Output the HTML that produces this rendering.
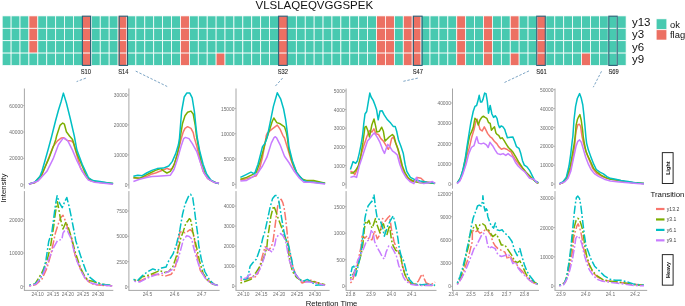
<!DOCTYPE html><html><head><meta charset="utf-8"><style>html,body{margin:0;padding:0;background:#fff;width:685px;height:306px;overflow:hidden}svg{display:block;will-change:transform}text{font-family:"Liberation Sans",sans-serif}</style></head><body>
<svg width="685" height="306" viewBox="0 0 685 306">
<g stroke="#fff" stroke-width="0.75">
<rect x="2.20" y="15.90" width="8.91" height="12.40" fill="#48C9B0"/>
<rect x="2.20" y="28.30" width="8.91" height="12.40" fill="#48C9B0"/>
<rect x="2.20" y="40.70" width="8.91" height="12.40" fill="#48C9B0"/>
<rect x="2.20" y="53.10" width="8.91" height="12.40" fill="#48C9B0"/>
<rect x="11.11" y="15.90" width="8.91" height="12.40" fill="#48C9B0"/>
<rect x="11.11" y="28.30" width="8.91" height="12.40" fill="#48C9B0"/>
<rect x="11.11" y="40.70" width="8.91" height="12.40" fill="#48C9B0"/>
<rect x="11.11" y="53.10" width="8.91" height="12.40" fill="#48C9B0"/>
<rect x="20.03" y="15.90" width="8.91" height="12.40" fill="#48C9B0"/>
<rect x="20.03" y="28.30" width="8.91" height="12.40" fill="#48C9B0"/>
<rect x="20.03" y="40.70" width="8.91" height="12.40" fill="#48C9B0"/>
<rect x="20.03" y="53.10" width="8.91" height="12.40" fill="#48C9B0"/>
<rect x="28.94" y="15.90" width="8.91" height="12.40" fill="#EC7063"/>
<rect x="28.94" y="28.30" width="8.91" height="12.40" fill="#EC7063"/>
<rect x="28.94" y="40.70" width="8.91" height="12.40" fill="#EC7063"/>
<rect x="28.94" y="53.10" width="8.91" height="12.40" fill="#48C9B0"/>
<rect x="37.85" y="15.90" width="8.91" height="12.40" fill="#48C9B0"/>
<rect x="37.85" y="28.30" width="8.91" height="12.40" fill="#48C9B0"/>
<rect x="37.85" y="40.70" width="8.91" height="12.40" fill="#48C9B0"/>
<rect x="37.85" y="53.10" width="8.91" height="12.40" fill="#48C9B0"/>
<rect x="46.77" y="15.90" width="8.91" height="12.40" fill="#48C9B0"/>
<rect x="46.77" y="28.30" width="8.91" height="12.40" fill="#48C9B0"/>
<rect x="46.77" y="40.70" width="8.91" height="12.40" fill="#48C9B0"/>
<rect x="46.77" y="53.10" width="8.91" height="12.40" fill="#48C9B0"/>
<rect x="55.68" y="15.90" width="8.91" height="12.40" fill="#48C9B0"/>
<rect x="55.68" y="28.30" width="8.91" height="12.40" fill="#48C9B0"/>
<rect x="55.68" y="40.70" width="8.91" height="12.40" fill="#48C9B0"/>
<rect x="55.68" y="53.10" width="8.91" height="12.40" fill="#48C9B0"/>
<rect x="64.59" y="15.90" width="8.91" height="12.40" fill="#48C9B0"/>
<rect x="64.59" y="28.30" width="8.91" height="12.40" fill="#48C9B0"/>
<rect x="64.59" y="40.70" width="8.91" height="12.40" fill="#48C9B0"/>
<rect x="64.59" y="53.10" width="8.91" height="12.40" fill="#48C9B0"/>
<rect x="73.50" y="15.90" width="8.91" height="12.40" fill="#48C9B0"/>
<rect x="73.50" y="28.30" width="8.91" height="12.40" fill="#48C9B0"/>
<rect x="73.50" y="40.70" width="8.91" height="12.40" fill="#48C9B0"/>
<rect x="73.50" y="53.10" width="8.91" height="12.40" fill="#48C9B0"/>
<rect x="82.42" y="15.90" width="8.91" height="12.40" fill="#EC7063"/>
<rect x="82.42" y="28.30" width="8.91" height="12.40" fill="#EC7063"/>
<rect x="82.42" y="40.70" width="8.91" height="12.40" fill="#EC7063"/>
<rect x="82.42" y="53.10" width="8.91" height="12.40" fill="#EC7063"/>
<rect x="91.33" y="15.90" width="8.91" height="12.40" fill="#48C9B0"/>
<rect x="91.33" y="28.30" width="8.91" height="12.40" fill="#48C9B0"/>
<rect x="91.33" y="40.70" width="8.91" height="12.40" fill="#48C9B0"/>
<rect x="91.33" y="53.10" width="8.91" height="12.40" fill="#48C9B0"/>
<rect x="100.24" y="15.90" width="8.91" height="12.40" fill="#48C9B0"/>
<rect x="100.24" y="28.30" width="8.91" height="12.40" fill="#48C9B0"/>
<rect x="100.24" y="40.70" width="8.91" height="12.40" fill="#48C9B0"/>
<rect x="100.24" y="53.10" width="8.91" height="12.40" fill="#48C9B0"/>
<rect x="109.16" y="15.90" width="8.91" height="12.40" fill="#48C9B0"/>
<rect x="109.16" y="28.30" width="8.91" height="12.40" fill="#48C9B0"/>
<rect x="109.16" y="40.70" width="8.91" height="12.40" fill="#48C9B0"/>
<rect x="109.16" y="53.10" width="8.91" height="12.40" fill="#48C9B0"/>
<rect x="118.07" y="15.90" width="8.91" height="12.40" fill="#EC7063"/>
<rect x="118.07" y="28.30" width="8.91" height="12.40" fill="#EC7063"/>
<rect x="118.07" y="40.70" width="8.91" height="12.40" fill="#EC7063"/>
<rect x="118.07" y="53.10" width="8.91" height="12.40" fill="#EC7063"/>
<rect x="126.98" y="15.90" width="8.91" height="12.40" fill="#48C9B0"/>
<rect x="126.98" y="28.30" width="8.91" height="12.40" fill="#48C9B0"/>
<rect x="126.98" y="40.70" width="8.91" height="12.40" fill="#48C9B0"/>
<rect x="126.98" y="53.10" width="8.91" height="12.40" fill="#48C9B0"/>
<rect x="135.89" y="15.90" width="8.91" height="12.40" fill="#48C9B0"/>
<rect x="135.89" y="28.30" width="8.91" height="12.40" fill="#48C9B0"/>
<rect x="135.89" y="40.70" width="8.91" height="12.40" fill="#48C9B0"/>
<rect x="135.89" y="53.10" width="8.91" height="12.40" fill="#48C9B0"/>
<rect x="144.81" y="15.90" width="8.91" height="12.40" fill="#48C9B0"/>
<rect x="144.81" y="28.30" width="8.91" height="12.40" fill="#48C9B0"/>
<rect x="144.81" y="40.70" width="8.91" height="12.40" fill="#48C9B0"/>
<rect x="144.81" y="53.10" width="8.91" height="12.40" fill="#48C9B0"/>
<rect x="153.72" y="15.90" width="8.91" height="12.40" fill="#48C9B0"/>
<rect x="153.72" y="28.30" width="8.91" height="12.40" fill="#48C9B0"/>
<rect x="153.72" y="40.70" width="8.91" height="12.40" fill="#48C9B0"/>
<rect x="153.72" y="53.10" width="8.91" height="12.40" fill="#48C9B0"/>
<rect x="162.63" y="15.90" width="8.91" height="12.40" fill="#48C9B0"/>
<rect x="162.63" y="28.30" width="8.91" height="12.40" fill="#48C9B0"/>
<rect x="162.63" y="40.70" width="8.91" height="12.40" fill="#48C9B0"/>
<rect x="162.63" y="53.10" width="8.91" height="12.40" fill="#48C9B0"/>
<rect x="171.55" y="15.90" width="8.91" height="12.40" fill="#48C9B0"/>
<rect x="171.55" y="28.30" width="8.91" height="12.40" fill="#48C9B0"/>
<rect x="171.55" y="40.70" width="8.91" height="12.40" fill="#48C9B0"/>
<rect x="171.55" y="53.10" width="8.91" height="12.40" fill="#48C9B0"/>
<rect x="180.46" y="15.90" width="8.91" height="12.40" fill="#EC7063"/>
<rect x="180.46" y="28.30" width="8.91" height="12.40" fill="#EC7063"/>
<rect x="180.46" y="40.70" width="8.91" height="12.40" fill="#EC7063"/>
<rect x="180.46" y="53.10" width="8.91" height="12.40" fill="#EC7063"/>
<rect x="189.37" y="15.90" width="8.91" height="12.40" fill="#48C9B0"/>
<rect x="189.37" y="28.30" width="8.91" height="12.40" fill="#48C9B0"/>
<rect x="189.37" y="40.70" width="8.91" height="12.40" fill="#48C9B0"/>
<rect x="189.37" y="53.10" width="8.91" height="12.40" fill="#48C9B0"/>
<rect x="198.29" y="15.90" width="8.91" height="12.40" fill="#48C9B0"/>
<rect x="198.29" y="28.30" width="8.91" height="12.40" fill="#48C9B0"/>
<rect x="198.29" y="40.70" width="8.91" height="12.40" fill="#48C9B0"/>
<rect x="198.29" y="53.10" width="8.91" height="12.40" fill="#48C9B0"/>
<rect x="207.20" y="15.90" width="8.91" height="12.40" fill="#48C9B0"/>
<rect x="207.20" y="28.30" width="8.91" height="12.40" fill="#48C9B0"/>
<rect x="207.20" y="40.70" width="8.91" height="12.40" fill="#48C9B0"/>
<rect x="207.20" y="53.10" width="8.91" height="12.40" fill="#48C9B0"/>
<rect x="216.11" y="15.90" width="8.91" height="12.40" fill="#48C9B0"/>
<rect x="216.11" y="28.30" width="8.91" height="12.40" fill="#48C9B0"/>
<rect x="216.11" y="40.70" width="8.91" height="12.40" fill="#48C9B0"/>
<rect x="216.11" y="53.10" width="8.91" height="12.40" fill="#EC7063"/>
<rect x="225.03" y="15.90" width="8.91" height="12.40" fill="#48C9B0"/>
<rect x="225.03" y="28.30" width="8.91" height="12.40" fill="#48C9B0"/>
<rect x="225.03" y="40.70" width="8.91" height="12.40" fill="#48C9B0"/>
<rect x="225.03" y="53.10" width="8.91" height="12.40" fill="#48C9B0"/>
<rect x="233.94" y="15.90" width="8.91" height="12.40" fill="#48C9B0"/>
<rect x="233.94" y="28.30" width="8.91" height="12.40" fill="#48C9B0"/>
<rect x="233.94" y="40.70" width="8.91" height="12.40" fill="#48C9B0"/>
<rect x="233.94" y="53.10" width="8.91" height="12.40" fill="#48C9B0"/>
<rect x="242.85" y="15.90" width="8.91" height="12.40" fill="#48C9B0"/>
<rect x="242.85" y="28.30" width="8.91" height="12.40" fill="#48C9B0"/>
<rect x="242.85" y="40.70" width="8.91" height="12.40" fill="#48C9B0"/>
<rect x="242.85" y="53.10" width="8.91" height="12.40" fill="#48C9B0"/>
<rect x="251.76" y="15.90" width="8.91" height="12.40" fill="#48C9B0"/>
<rect x="251.76" y="28.30" width="8.91" height="12.40" fill="#48C9B0"/>
<rect x="251.76" y="40.70" width="8.91" height="12.40" fill="#48C9B0"/>
<rect x="251.76" y="53.10" width="8.91" height="12.40" fill="#48C9B0"/>
<rect x="260.68" y="15.90" width="8.91" height="12.40" fill="#48C9B0"/>
<rect x="260.68" y="28.30" width="8.91" height="12.40" fill="#48C9B0"/>
<rect x="260.68" y="40.70" width="8.91" height="12.40" fill="#48C9B0"/>
<rect x="260.68" y="53.10" width="8.91" height="12.40" fill="#48C9B0"/>
<rect x="269.59" y="15.90" width="8.91" height="12.40" fill="#48C9B0"/>
<rect x="269.59" y="28.30" width="8.91" height="12.40" fill="#48C9B0"/>
<rect x="269.59" y="40.70" width="8.91" height="12.40" fill="#48C9B0"/>
<rect x="269.59" y="53.10" width="8.91" height="12.40" fill="#48C9B0"/>
<rect x="278.50" y="15.90" width="8.91" height="12.40" fill="#EC7063"/>
<rect x="278.50" y="28.30" width="8.91" height="12.40" fill="#EC7063"/>
<rect x="278.50" y="40.70" width="8.91" height="12.40" fill="#EC7063"/>
<rect x="278.50" y="53.10" width="8.91" height="12.40" fill="#EC7063"/>
<rect x="287.42" y="15.90" width="8.91" height="12.40" fill="#48C9B0"/>
<rect x="287.42" y="28.30" width="8.91" height="12.40" fill="#48C9B0"/>
<rect x="287.42" y="40.70" width="8.91" height="12.40" fill="#48C9B0"/>
<rect x="287.42" y="53.10" width="8.91" height="12.40" fill="#48C9B0"/>
<rect x="296.33" y="15.90" width="8.91" height="12.40" fill="#48C9B0"/>
<rect x="296.33" y="28.30" width="8.91" height="12.40" fill="#48C9B0"/>
<rect x="296.33" y="40.70" width="8.91" height="12.40" fill="#48C9B0"/>
<rect x="296.33" y="53.10" width="8.91" height="12.40" fill="#48C9B0"/>
<rect x="305.24" y="15.90" width="8.91" height="12.40" fill="#48C9B0"/>
<rect x="305.24" y="28.30" width="8.91" height="12.40" fill="#48C9B0"/>
<rect x="305.24" y="40.70" width="8.91" height="12.40" fill="#48C9B0"/>
<rect x="305.24" y="53.10" width="8.91" height="12.40" fill="#48C9B0"/>
<rect x="314.15" y="15.90" width="8.91" height="12.40" fill="#48C9B0"/>
<rect x="314.15" y="28.30" width="8.91" height="12.40" fill="#48C9B0"/>
<rect x="314.15" y="40.70" width="8.91" height="12.40" fill="#48C9B0"/>
<rect x="314.15" y="53.10" width="8.91" height="12.40" fill="#48C9B0"/>
<rect x="323.07" y="15.90" width="8.91" height="12.40" fill="#48C9B0"/>
<rect x="323.07" y="28.30" width="8.91" height="12.40" fill="#48C9B0"/>
<rect x="323.07" y="40.70" width="8.91" height="12.40" fill="#48C9B0"/>
<rect x="323.07" y="53.10" width="8.91" height="12.40" fill="#48C9B0"/>
<rect x="331.98" y="15.90" width="8.91" height="12.40" fill="#48C9B0"/>
<rect x="331.98" y="28.30" width="8.91" height="12.40" fill="#48C9B0"/>
<rect x="331.98" y="40.70" width="8.91" height="12.40" fill="#48C9B0"/>
<rect x="331.98" y="53.10" width="8.91" height="12.40" fill="#48C9B0"/>
<rect x="340.89" y="15.90" width="8.91" height="12.40" fill="#48C9B0"/>
<rect x="340.89" y="28.30" width="8.91" height="12.40" fill="#48C9B0"/>
<rect x="340.89" y="40.70" width="8.91" height="12.40" fill="#48C9B0"/>
<rect x="340.89" y="53.10" width="8.91" height="12.40" fill="#48C9B0"/>
<rect x="349.81" y="15.90" width="8.91" height="12.40" fill="#48C9B0"/>
<rect x="349.81" y="28.30" width="8.91" height="12.40" fill="#48C9B0"/>
<rect x="349.81" y="40.70" width="8.91" height="12.40" fill="#48C9B0"/>
<rect x="349.81" y="53.10" width="8.91" height="12.40" fill="#48C9B0"/>
<rect x="358.72" y="15.90" width="8.91" height="12.40" fill="#48C9B0"/>
<rect x="358.72" y="28.30" width="8.91" height="12.40" fill="#48C9B0"/>
<rect x="358.72" y="40.70" width="8.91" height="12.40" fill="#48C9B0"/>
<rect x="358.72" y="53.10" width="8.91" height="12.40" fill="#48C9B0"/>
<rect x="367.63" y="15.90" width="8.91" height="12.40" fill="#48C9B0"/>
<rect x="367.63" y="28.30" width="8.91" height="12.40" fill="#48C9B0"/>
<rect x="367.63" y="40.70" width="8.91" height="12.40" fill="#48C9B0"/>
<rect x="367.63" y="53.10" width="8.91" height="12.40" fill="#48C9B0"/>
<rect x="376.55" y="15.90" width="8.91" height="12.40" fill="#EC7063"/>
<rect x="376.55" y="28.30" width="8.91" height="12.40" fill="#EC7063"/>
<rect x="376.55" y="40.70" width="8.91" height="12.40" fill="#EC7063"/>
<rect x="376.55" y="53.10" width="8.91" height="12.40" fill="#EC7063"/>
<rect x="385.46" y="15.90" width="8.91" height="12.40" fill="#EC7063"/>
<rect x="385.46" y="28.30" width="8.91" height="12.40" fill="#EC7063"/>
<rect x="385.46" y="40.70" width="8.91" height="12.40" fill="#EC7063"/>
<rect x="385.46" y="53.10" width="8.91" height="12.40" fill="#EC7063"/>
<rect x="394.37" y="15.90" width="8.91" height="12.40" fill="#48C9B0"/>
<rect x="394.37" y="28.30" width="8.91" height="12.40" fill="#48C9B0"/>
<rect x="394.37" y="40.70" width="8.91" height="12.40" fill="#48C9B0"/>
<rect x="394.37" y="53.10" width="8.91" height="12.40" fill="#48C9B0"/>
<rect x="403.29" y="15.90" width="8.91" height="12.40" fill="#EC7063"/>
<rect x="403.29" y="28.30" width="8.91" height="12.40" fill="#EC7063"/>
<rect x="403.29" y="40.70" width="8.91" height="12.40" fill="#EC7063"/>
<rect x="403.29" y="53.10" width="8.91" height="12.40" fill="#EC7063"/>
<rect x="412.20" y="15.90" width="8.91" height="12.40" fill="#EC7063"/>
<rect x="412.20" y="28.30" width="8.91" height="12.40" fill="#EC7063"/>
<rect x="412.20" y="40.70" width="8.91" height="12.40" fill="#EC7063"/>
<rect x="412.20" y="53.10" width="8.91" height="12.40" fill="#EC7063"/>
<rect x="421.11" y="15.90" width="8.91" height="12.40" fill="#48C9B0"/>
<rect x="421.11" y="28.30" width="8.91" height="12.40" fill="#48C9B0"/>
<rect x="421.11" y="40.70" width="8.91" height="12.40" fill="#48C9B0"/>
<rect x="421.11" y="53.10" width="8.91" height="12.40" fill="#48C9B0"/>
<rect x="430.02" y="15.90" width="8.91" height="12.40" fill="#48C9B0"/>
<rect x="430.02" y="28.30" width="8.91" height="12.40" fill="#48C9B0"/>
<rect x="430.02" y="40.70" width="8.91" height="12.40" fill="#48C9B0"/>
<rect x="430.02" y="53.10" width="8.91" height="12.40" fill="#48C9B0"/>
<rect x="438.94" y="15.90" width="8.91" height="12.40" fill="#48C9B0"/>
<rect x="438.94" y="28.30" width="8.91" height="12.40" fill="#48C9B0"/>
<rect x="438.94" y="40.70" width="8.91" height="12.40" fill="#48C9B0"/>
<rect x="438.94" y="53.10" width="8.91" height="12.40" fill="#48C9B0"/>
<rect x="447.85" y="15.90" width="8.91" height="12.40" fill="#48C9B0"/>
<rect x="447.85" y="28.30" width="8.91" height="12.40" fill="#48C9B0"/>
<rect x="447.85" y="40.70" width="8.91" height="12.40" fill="#48C9B0"/>
<rect x="447.85" y="53.10" width="8.91" height="12.40" fill="#48C9B0"/>
<rect x="456.76" y="15.90" width="8.91" height="12.40" fill="#EC7063"/>
<rect x="456.76" y="28.30" width="8.91" height="12.40" fill="#EC7063"/>
<rect x="456.76" y="40.70" width="8.91" height="12.40" fill="#EC7063"/>
<rect x="456.76" y="53.10" width="8.91" height="12.40" fill="#EC7063"/>
<rect x="465.68" y="15.90" width="8.91" height="12.40" fill="#48C9B0"/>
<rect x="465.68" y="28.30" width="8.91" height="12.40" fill="#48C9B0"/>
<rect x="465.68" y="40.70" width="8.91" height="12.40" fill="#48C9B0"/>
<rect x="465.68" y="53.10" width="8.91" height="12.40" fill="#48C9B0"/>
<rect x="474.59" y="15.90" width="8.91" height="12.40" fill="#48C9B0"/>
<rect x="474.59" y="28.30" width="8.91" height="12.40" fill="#48C9B0"/>
<rect x="474.59" y="40.70" width="8.91" height="12.40" fill="#48C9B0"/>
<rect x="474.59" y="53.10" width="8.91" height="12.40" fill="#48C9B0"/>
<rect x="483.50" y="15.90" width="8.91" height="12.40" fill="#EC7063"/>
<rect x="483.50" y="28.30" width="8.91" height="12.40" fill="#EC7063"/>
<rect x="483.50" y="40.70" width="8.91" height="12.40" fill="#EC7063"/>
<rect x="483.50" y="53.10" width="8.91" height="12.40" fill="#EC7063"/>
<rect x="492.42" y="15.90" width="8.91" height="12.40" fill="#48C9B0"/>
<rect x="492.42" y="28.30" width="8.91" height="12.40" fill="#48C9B0"/>
<rect x="492.42" y="40.70" width="8.91" height="12.40" fill="#48C9B0"/>
<rect x="492.42" y="53.10" width="8.91" height="12.40" fill="#48C9B0"/>
<rect x="501.33" y="15.90" width="8.91" height="12.40" fill="#48C9B0"/>
<rect x="501.33" y="28.30" width="8.91" height="12.40" fill="#48C9B0"/>
<rect x="501.33" y="40.70" width="8.91" height="12.40" fill="#48C9B0"/>
<rect x="501.33" y="53.10" width="8.91" height="12.40" fill="#48C9B0"/>
<rect x="510.24" y="15.90" width="8.91" height="12.40" fill="#EC7063"/>
<rect x="510.24" y="28.30" width="8.91" height="12.40" fill="#EC7063"/>
<rect x="510.24" y="40.70" width="8.91" height="12.40" fill="#48C9B0"/>
<rect x="510.24" y="53.10" width="8.91" height="12.40" fill="#EC7063"/>
<rect x="519.15" y="15.90" width="8.91" height="12.40" fill="#48C9B0"/>
<rect x="519.15" y="28.30" width="8.91" height="12.40" fill="#48C9B0"/>
<rect x="519.15" y="40.70" width="8.91" height="12.40" fill="#48C9B0"/>
<rect x="519.15" y="53.10" width="8.91" height="12.40" fill="#48C9B0"/>
<rect x="528.07" y="15.90" width="8.91" height="12.40" fill="#48C9B0"/>
<rect x="528.07" y="28.30" width="8.91" height="12.40" fill="#48C9B0"/>
<rect x="528.07" y="40.70" width="8.91" height="12.40" fill="#48C9B0"/>
<rect x="528.07" y="53.10" width="8.91" height="12.40" fill="#48C9B0"/>
<rect x="536.98" y="15.90" width="8.91" height="12.40" fill="#EC7063"/>
<rect x="536.98" y="28.30" width="8.91" height="12.40" fill="#EC7063"/>
<rect x="536.98" y="40.70" width="8.91" height="12.40" fill="#EC7063"/>
<rect x="536.98" y="53.10" width="8.91" height="12.40" fill="#EC7063"/>
<rect x="545.89" y="15.90" width="8.91" height="12.40" fill="#48C9B0"/>
<rect x="545.89" y="28.30" width="8.91" height="12.40" fill="#48C9B0"/>
<rect x="545.89" y="40.70" width="8.91" height="12.40" fill="#48C9B0"/>
<rect x="545.89" y="53.10" width="8.91" height="12.40" fill="#48C9B0"/>
<rect x="554.81" y="15.90" width="8.91" height="12.40" fill="#48C9B0"/>
<rect x="554.81" y="28.30" width="8.91" height="12.40" fill="#48C9B0"/>
<rect x="554.81" y="40.70" width="8.91" height="12.40" fill="#48C9B0"/>
<rect x="554.81" y="53.10" width="8.91" height="12.40" fill="#48C9B0"/>
<rect x="563.72" y="15.90" width="8.91" height="12.40" fill="#48C9B0"/>
<rect x="563.72" y="28.30" width="8.91" height="12.40" fill="#48C9B0"/>
<rect x="563.72" y="40.70" width="8.91" height="12.40" fill="#48C9B0"/>
<rect x="563.72" y="53.10" width="8.91" height="12.40" fill="#48C9B0"/>
<rect x="572.63" y="15.90" width="8.91" height="12.40" fill="#48C9B0"/>
<rect x="572.63" y="28.30" width="8.91" height="12.40" fill="#48C9B0"/>
<rect x="572.63" y="40.70" width="8.91" height="12.40" fill="#48C9B0"/>
<rect x="572.63" y="53.10" width="8.91" height="12.40" fill="#48C9B0"/>
<rect x="581.55" y="15.90" width="8.91" height="12.40" fill="#48C9B0"/>
<rect x="581.55" y="28.30" width="8.91" height="12.40" fill="#48C9B0"/>
<rect x="581.55" y="40.70" width="8.91" height="12.40" fill="#48C9B0"/>
<rect x="581.55" y="53.10" width="8.91" height="12.40" fill="#EC7063"/>
<rect x="590.46" y="15.90" width="8.91" height="12.40" fill="#48C9B0"/>
<rect x="590.46" y="28.30" width="8.91" height="12.40" fill="#48C9B0"/>
<rect x="590.46" y="40.70" width="8.91" height="12.40" fill="#48C9B0"/>
<rect x="590.46" y="53.10" width="8.91" height="12.40" fill="#48C9B0"/>
<rect x="599.37" y="15.90" width="8.91" height="12.40" fill="#48C9B0"/>
<rect x="599.37" y="28.30" width="8.91" height="12.40" fill="#48C9B0"/>
<rect x="599.37" y="40.70" width="8.91" height="12.40" fill="#48C9B0"/>
<rect x="599.37" y="53.10" width="8.91" height="12.40" fill="#48C9B0"/>
<rect x="608.28" y="15.90" width="8.91" height="12.40" fill="#48C9B0"/>
<rect x="608.28" y="28.30" width="8.91" height="12.40" fill="#48C9B0"/>
<rect x="608.28" y="40.70" width="8.91" height="12.40" fill="#48C9B0"/>
<rect x="608.28" y="53.10" width="8.91" height="12.40" fill="#48C9B0"/>
<rect x="617.20" y="15.90" width="8.91" height="12.40" fill="#48C9B0"/>
<rect x="617.20" y="28.30" width="8.91" height="12.40" fill="#48C9B0"/>
<rect x="617.20" y="40.70" width="8.91" height="12.40" fill="#48C9B0"/>
<rect x="617.20" y="53.10" width="8.91" height="12.40" fill="#48C9B0"/>
</g>
<rect x="82.40" y="16.2" width="8.20" height="49.2" fill="none" stroke="#2A5E76" stroke-width="1.1"/>
<text transform="translate(85.90,73.6) scale(1,1.18)" font-size="5.8" fill="#222" stroke="#222" stroke-width="0.08" text-anchor="middle">S10</text>
<rect x="119.20" y="16.2" width="8.30" height="49.2" fill="none" stroke="#2A5E76" stroke-width="1.1"/>
<text transform="translate(123.40,73.6) scale(1,1.18)" font-size="5.8" fill="#222" stroke="#222" stroke-width="0.08" text-anchor="middle">S14</text>
<rect x="278.60" y="16.2" width="8.70" height="49.2" fill="none" stroke="#2A5E76" stroke-width="1.1"/>
<text transform="translate(282.85,73.6) scale(1,1.18)" font-size="5.8" fill="#222" stroke="#222" stroke-width="0.08" text-anchor="middle">S32</text>
<rect x="413.40" y="16.2" width="8.70" height="49.2" fill="none" stroke="#2A5E76" stroke-width="1.1"/>
<text transform="translate(417.80,73.6) scale(1,1.18)" font-size="5.8" fill="#222" stroke="#222" stroke-width="0.08" text-anchor="middle">S47</text>
<rect x="536.70" y="16.2" width="8.60" height="49.2" fill="none" stroke="#2A5E76" stroke-width="1.1"/>
<text transform="translate(541.50,73.6) scale(1,1.18)" font-size="5.8" fill="#222" stroke="#222" stroke-width="0.08" text-anchor="middle">S61</text>
<rect x="608.80" y="16.2" width="8.40" height="49.2" fill="none" stroke="#2A5E76" stroke-width="1.1"/>
<text transform="translate(613.60,73.6) scale(1,1.18)" font-size="5.8" fill="#222" stroke="#222" stroke-width="0.08" text-anchor="middle">S69</text>
<text x="631.9" y="26.10" font-size="11.5" fill="#111">y13</text>
<text x="631.9" y="38.30" font-size="11.5" fill="#111">y3</text>
<text x="631.9" y="50.50" font-size="11.5" fill="#111">y6</text>
<text x="631.9" y="62.70" font-size="11.5" fill="#111">y9</text>
<rect x="656.2" y="18.9" width="10.6" height="10.4" fill="#48C9B0" stroke="#fff" stroke-width="0.6"/>
<rect x="656.2" y="29.8" width="10.6" height="10.2" fill="#EC7063" stroke="#fff" stroke-width="0.6"/>
<text x="670" y="27.7" font-size="9.4" fill="#111">ok</text>
<text x="670" y="38.2" font-size="9.4" fill="#111">flag</text>
<text x="314.3" y="8.7" font-size="11.5" fill="#111" text-anchor="middle">VLSLAQEQVGGSPEK</text>
<line x1="85.9" y1="78.1" x2="76.6" y2="81.6" stroke="#5B8DB5" stroke-width="0.8" stroke-dasharray="2.5,1.6"/>
<line x1="135.7" y1="71.1" x2="167.2" y2="86.5" stroke="#5B8DB5" stroke-width="0.8" stroke-dasharray="2.5,1.6"/>
<line x1="282.6" y1="78.1" x2="275" y2="86.5" stroke="#5B8DB5" stroke-width="0.8" stroke-dasharray="2.5,1.6"/>
<line x1="417.8" y1="78.1" x2="402" y2="81.6" stroke="#5B8DB5" stroke-width="0.8" stroke-dasharray="2.5,1.6"/>
<line x1="529" y1="70.9" x2="503.4" y2="83" stroke="#5B8DB5" stroke-width="0.8" stroke-dasharray="2.5,1.6"/>
<line x1="601.5" y1="71.3" x2="593.3" y2="87.2" stroke="#5B8DB5" stroke-width="0.8" stroke-dasharray="2.5,1.6"/>
<line x1="24.4" y1="88.5" x2="24.4" y2="188.7" stroke="#9c9c9c" stroke-width="0.9"/>
<line x1="22.799999999999997" y1="105.6" x2="24.4" y2="105.6" stroke="#9c9c9c" stroke-width="0.7"/>
<text transform="translate(22.90,107.75) scale(1,1.28)" font-size="4.9" fill="#6e6e6e" text-anchor="end">60000</text>
<line x1="22.799999999999997" y1="132.0" x2="24.4" y2="132.0" stroke="#9c9c9c" stroke-width="0.7"/>
<text transform="translate(22.90,134.15) scale(1,1.28)" font-size="4.9" fill="#6e6e6e" text-anchor="end">40000</text>
<line x1="22.799999999999997" y1="158.3" x2="24.4" y2="158.3" stroke="#9c9c9c" stroke-width="0.7"/>
<text transform="translate(22.90,160.45) scale(1,1.28)" font-size="4.9" fill="#6e6e6e" text-anchor="end">20000</text>
<line x1="22.799999999999997" y1="184.8" x2="24.4" y2="184.8" stroke="#9c9c9c" stroke-width="0.7"/>
<text transform="translate(22.90,186.95) scale(1,1.28)" font-size="4.9" fill="#6e6e6e" text-anchor="end">0</text>
<line x1="24.4" y1="191.1" x2="24.4" y2="290.4" stroke="#9c9c9c" stroke-width="0.9"/>
<line x1="22.799999999999997" y1="219.7" x2="24.4" y2="219.7" stroke="#9c9c9c" stroke-width="0.7"/>
<text transform="translate(22.90,221.85) scale(1,1.28)" font-size="4.9" fill="#6e6e6e" text-anchor="end">20000</text>
<line x1="22.799999999999997" y1="253.0" x2="24.4" y2="253.0" stroke="#9c9c9c" stroke-width="0.7"/>
<text transform="translate(22.90,255.15) scale(1,1.28)" font-size="4.9" fill="#6e6e6e" text-anchor="end">10000</text>
<line x1="22.799999999999997" y1="286.4" x2="24.4" y2="286.4" stroke="#9c9c9c" stroke-width="0.7"/>
<text transform="translate(22.90,288.55) scale(1,1.28)" font-size="4.9" fill="#6e6e6e" text-anchor="end">0</text>
<line x1="23.95" y1="290.4" x2="113.3" y2="290.4" stroke="#9c9c9c" stroke-width="0.9"/>
<line x1="37.6" y1="290.4" x2="37.6" y2="292" stroke="#9c9c9c" stroke-width="0.7"/>
<text transform="translate(37.6,296.0) scale(1,1.28)" font-size="4.9" fill="#6e6e6e" text-anchor="middle">24.10</text>
<line x1="53.0" y1="290.4" x2="53.0" y2="292" stroke="#9c9c9c" stroke-width="0.7"/>
<text transform="translate(53.0,296.0) scale(1,1.28)" font-size="4.9" fill="#6e6e6e" text-anchor="middle">24.15</text>
<line x1="67.8" y1="290.4" x2="67.8" y2="292" stroke="#9c9c9c" stroke-width="0.7"/>
<text transform="translate(67.8,296.0) scale(1,1.28)" font-size="4.9" fill="#6e6e6e" text-anchor="middle">24.20</text>
<line x1="83.0" y1="290.4" x2="83.0" y2="292" stroke="#9c9c9c" stroke-width="0.7"/>
<text transform="translate(83.0,296.0) scale(1,1.28)" font-size="4.9" fill="#6e6e6e" text-anchor="middle">24.25</text>
<line x1="98.2" y1="290.4" x2="98.2" y2="292" stroke="#9c9c9c" stroke-width="0.7"/>
<text transform="translate(98.2,296.0) scale(1,1.28)" font-size="4.9" fill="#6e6e6e" text-anchor="middle">24.30</text>
<line x1="128.9" y1="88.5" x2="128.9" y2="188.7" stroke="#9c9c9c" stroke-width="0.9"/>
<line x1="127.30000000000001" y1="95.0" x2="128.9" y2="95.0" stroke="#9c9c9c" stroke-width="0.7"/>
<text transform="translate(127.40,97.15) scale(1,1.28)" font-size="4.9" fill="#6e6e6e" text-anchor="end">30000</text>
<line x1="127.30000000000001" y1="124.9" x2="128.9" y2="124.9" stroke="#9c9c9c" stroke-width="0.7"/>
<text transform="translate(127.40,127.05) scale(1,1.28)" font-size="4.9" fill="#6e6e6e" text-anchor="end">20000</text>
<line x1="127.30000000000001" y1="154.9" x2="128.9" y2="154.9" stroke="#9c9c9c" stroke-width="0.7"/>
<text transform="translate(127.40,157.05) scale(1,1.28)" font-size="4.9" fill="#6e6e6e" text-anchor="end">10000</text>
<line x1="127.30000000000001" y1="184.8" x2="128.9" y2="184.8" stroke="#9c9c9c" stroke-width="0.7"/>
<text transform="translate(127.40,186.95) scale(1,1.28)" font-size="4.9" fill="#6e6e6e" text-anchor="end">0</text>
<line x1="128.9" y1="191.1" x2="128.9" y2="290.4" stroke="#9c9c9c" stroke-width="0.9"/>
<line x1="127.30000000000001" y1="211.0" x2="128.9" y2="211.0" stroke="#9c9c9c" stroke-width="0.7"/>
<text transform="translate(127.40,213.15) scale(1,1.28)" font-size="4.9" fill="#6e6e6e" text-anchor="end">7500</text>
<line x1="127.30000000000001" y1="236.29999999999998" x2="128.9" y2="236.29999999999998" stroke="#9c9c9c" stroke-width="0.7"/>
<text transform="translate(127.40,238.45) scale(1,1.28)" font-size="4.9" fill="#6e6e6e" text-anchor="end">5000</text>
<line x1="127.30000000000001" y1="261.59999999999997" x2="128.9" y2="261.59999999999997" stroke="#9c9c9c" stroke-width="0.7"/>
<text transform="translate(127.40,263.75) scale(1,1.28)" font-size="4.9" fill="#6e6e6e" text-anchor="end">2500</text>
<line x1="127.30000000000001" y1="286.9" x2="128.9" y2="286.9" stroke="#9c9c9c" stroke-width="0.7"/>
<text transform="translate(127.40,289.05) scale(1,1.28)" font-size="4.9" fill="#6e6e6e" text-anchor="end">0</text>
<line x1="128.45000000000002" y1="290.4" x2="219.6" y2="290.4" stroke="#9c9c9c" stroke-width="0.9"/>
<line x1="147.4" y1="290.4" x2="147.4" y2="292" stroke="#9c9c9c" stroke-width="0.7"/>
<text transform="translate(147.4,296.0) scale(1,1.28)" font-size="4.9" fill="#6e6e6e" text-anchor="middle">24.5</text>
<line x1="174.6" y1="290.4" x2="174.6" y2="292" stroke="#9c9c9c" stroke-width="0.7"/>
<text transform="translate(174.6,296.0) scale(1,1.28)" font-size="4.9" fill="#6e6e6e" text-anchor="middle">24.6</text>
<line x1="201.8" y1="290.4" x2="201.8" y2="292" stroke="#9c9c9c" stroke-width="0.7"/>
<text transform="translate(201.8,296.0) scale(1,1.28)" font-size="4.9" fill="#6e6e6e" text-anchor="middle">24.7</text>
<line x1="236.0" y1="88.5" x2="236.0" y2="188.7" stroke="#9c9c9c" stroke-width="0.9"/>
<line x1="234.4" y1="108.4" x2="236.0" y2="108.4" stroke="#9c9c9c" stroke-width="0.7"/>
<text transform="translate(234.50,110.55) scale(1,1.28)" font-size="4.9" fill="#6e6e6e" text-anchor="end">15000</text>
<line x1="234.4" y1="133.7" x2="236.0" y2="133.7" stroke="#9c9c9c" stroke-width="0.7"/>
<text transform="translate(234.50,135.85) scale(1,1.28)" font-size="4.9" fill="#6e6e6e" text-anchor="end">10000</text>
<line x1="234.4" y1="159.0" x2="236.0" y2="159.0" stroke="#9c9c9c" stroke-width="0.7"/>
<text transform="translate(234.50,161.15) scale(1,1.28)" font-size="4.9" fill="#6e6e6e" text-anchor="end">5000</text>
<line x1="234.4" y1="184.3" x2="236.0" y2="184.3" stroke="#9c9c9c" stroke-width="0.7"/>
<text transform="translate(234.50,186.45) scale(1,1.28)" font-size="4.9" fill="#6e6e6e" text-anchor="end">0</text>
<line x1="236.0" y1="191.1" x2="236.0" y2="290.4" stroke="#9c9c9c" stroke-width="0.9"/>
<line x1="234.4" y1="206.1" x2="236.0" y2="206.1" stroke="#9c9c9c" stroke-width="0.7"/>
<text transform="translate(234.50,208.25) scale(1,1.28)" font-size="4.9" fill="#6e6e6e" text-anchor="end">4000</text>
<line x1="234.4" y1="226.1" x2="236.0" y2="226.1" stroke="#9c9c9c" stroke-width="0.7"/>
<text transform="translate(234.50,228.25) scale(1,1.28)" font-size="4.9" fill="#6e6e6e" text-anchor="end">3000</text>
<line x1="234.4" y1="246.2" x2="236.0" y2="246.2" stroke="#9c9c9c" stroke-width="0.7"/>
<text transform="translate(234.50,248.35) scale(1,1.28)" font-size="4.9" fill="#6e6e6e" text-anchor="end">2000</text>
<line x1="234.4" y1="266.2" x2="236.0" y2="266.2" stroke="#9c9c9c" stroke-width="0.7"/>
<text transform="translate(234.50,268.35) scale(1,1.28)" font-size="4.9" fill="#6e6e6e" text-anchor="end">1000</text>
<line x1="234.4" y1="286.2" x2="236.0" y2="286.2" stroke="#9c9c9c" stroke-width="0.7"/>
<text transform="translate(234.50,288.35) scale(1,1.28)" font-size="4.9" fill="#6e6e6e" text-anchor="end">0</text>
<line x1="235.55" y1="290.4" x2="329.6" y2="290.4" stroke="#9c9c9c" stroke-width="0.9"/>
<line x1="243.4" y1="290.4" x2="243.4" y2="292" stroke="#9c9c9c" stroke-width="0.7"/>
<text transform="translate(243.4,296.0) scale(1,1.28)" font-size="4.9" fill="#6e6e6e" text-anchor="middle">24.10</text>
<line x1="261.4" y1="290.4" x2="261.4" y2="292" stroke="#9c9c9c" stroke-width="0.7"/>
<text transform="translate(261.4,296.0) scale(1,1.28)" font-size="4.9" fill="#6e6e6e" text-anchor="middle">24.15</text>
<line x1="279.2" y1="290.4" x2="279.2" y2="292" stroke="#9c9c9c" stroke-width="0.7"/>
<text transform="translate(279.2,296.0) scale(1,1.28)" font-size="4.9" fill="#6e6e6e" text-anchor="middle">24.20</text>
<line x1="297.1" y1="290.4" x2="297.1" y2="292" stroke="#9c9c9c" stroke-width="0.7"/>
<text transform="translate(297.1,296.0) scale(1,1.28)" font-size="4.9" fill="#6e6e6e" text-anchor="middle">24.25</text>
<line x1="314.9" y1="290.4" x2="314.9" y2="292" stroke="#9c9c9c" stroke-width="0.7"/>
<text transform="translate(314.9,296.0) scale(1,1.28)" font-size="4.9" fill="#6e6e6e" text-anchor="middle">24.30</text>
<line x1="346.1" y1="88.5" x2="346.1" y2="188.7" stroke="#9c9c9c" stroke-width="0.9"/>
<line x1="344.5" y1="90.8" x2="346.1" y2="90.8" stroke="#9c9c9c" stroke-width="0.7"/>
<text transform="translate(344.60,92.95) scale(1,1.28)" font-size="4.9" fill="#6e6e6e" text-anchor="end">5000</text>
<line x1="344.5" y1="109.5" x2="346.1" y2="109.5" stroke="#9c9c9c" stroke-width="0.7"/>
<text transform="translate(344.60,111.65) scale(1,1.28)" font-size="4.9" fill="#6e6e6e" text-anchor="end">4000</text>
<line x1="344.5" y1="128.1" x2="346.1" y2="128.1" stroke="#9c9c9c" stroke-width="0.7"/>
<text transform="translate(344.60,130.25) scale(1,1.28)" font-size="4.9" fill="#6e6e6e" text-anchor="end">3000</text>
<line x1="344.5" y1="146.8" x2="346.1" y2="146.8" stroke="#9c9c9c" stroke-width="0.7"/>
<text transform="translate(344.60,148.95) scale(1,1.28)" font-size="4.9" fill="#6e6e6e" text-anchor="end">2000</text>
<line x1="344.5" y1="165.5" x2="346.1" y2="165.5" stroke="#9c9c9c" stroke-width="0.7"/>
<text transform="translate(344.60,167.65) scale(1,1.28)" font-size="4.9" fill="#6e6e6e" text-anchor="end">1000</text>
<line x1="344.5" y1="184.1" x2="346.1" y2="184.1" stroke="#9c9c9c" stroke-width="0.7"/>
<text transform="translate(344.60,186.25) scale(1,1.28)" font-size="4.9" fill="#6e6e6e" text-anchor="end">0</text>
<line x1="346.1" y1="191.1" x2="346.1" y2="290.4" stroke="#9c9c9c" stroke-width="0.9"/>
<line x1="344.5" y1="206.7" x2="346.1" y2="206.7" stroke="#9c9c9c" stroke-width="0.7"/>
<text transform="translate(344.60,208.85) scale(1,1.28)" font-size="4.9" fill="#6e6e6e" text-anchor="end">1500</text>
<line x1="344.5" y1="233.2" x2="346.1" y2="233.2" stroke="#9c9c9c" stroke-width="0.7"/>
<text transform="translate(344.60,235.35) scale(1,1.28)" font-size="4.9" fill="#6e6e6e" text-anchor="end">1000</text>
<line x1="344.5" y1="259.7" x2="346.1" y2="259.7" stroke="#9c9c9c" stroke-width="0.7"/>
<text transform="translate(344.60,261.85) scale(1,1.28)" font-size="4.9" fill="#6e6e6e" text-anchor="end">500</text>
<line x1="344.5" y1="286.2" x2="346.1" y2="286.2" stroke="#9c9c9c" stroke-width="0.7"/>
<text transform="translate(344.60,288.35) scale(1,1.28)" font-size="4.9" fill="#6e6e6e" text-anchor="end">0</text>
<line x1="345.65000000000003" y1="290.4" x2="436.5" y2="290.4" stroke="#9c9c9c" stroke-width="0.9"/>
<line x1="350.6" y1="290.4" x2="350.6" y2="292" stroke="#9c9c9c" stroke-width="0.7"/>
<text transform="translate(350.6,296.0) scale(1,1.28)" font-size="4.9" fill="#6e6e6e" text-anchor="middle">23.8</text>
<line x1="371.0" y1="290.4" x2="371.0" y2="292" stroke="#9c9c9c" stroke-width="0.7"/>
<text transform="translate(371.0,296.0) scale(1,1.28)" font-size="4.9" fill="#6e6e6e" text-anchor="middle">23.9</text>
<line x1="391.4" y1="290.4" x2="391.4" y2="292" stroke="#9c9c9c" stroke-width="0.7"/>
<text transform="translate(391.4,296.0) scale(1,1.28)" font-size="4.9" fill="#6e6e6e" text-anchor="middle">24.0</text>
<line x1="411.8" y1="290.4" x2="411.8" y2="292" stroke="#9c9c9c" stroke-width="0.7"/>
<text transform="translate(411.8,296.0) scale(1,1.28)" font-size="4.9" fill="#6e6e6e" text-anchor="middle">24.1</text>
<line x1="452.5" y1="88.5" x2="452.5" y2="188.7" stroke="#9c9c9c" stroke-width="0.9"/>
<line x1="450.9" y1="103.0" x2="452.5" y2="103.0" stroke="#9c9c9c" stroke-width="0.7"/>
<text transform="translate(451.00,105.15) scale(1,1.28)" font-size="4.9" fill="#6e6e6e" text-anchor="end">40000</text>
<line x1="450.9" y1="123.3" x2="452.5" y2="123.3" stroke="#9c9c9c" stroke-width="0.7"/>
<text transform="translate(451.00,125.45) scale(1,1.28)" font-size="4.9" fill="#6e6e6e" text-anchor="end">30000</text>
<line x1="450.9" y1="143.6" x2="452.5" y2="143.6" stroke="#9c9c9c" stroke-width="0.7"/>
<text transform="translate(451.00,145.75) scale(1,1.28)" font-size="4.9" fill="#6e6e6e" text-anchor="end">20000</text>
<line x1="450.9" y1="163.9" x2="452.5" y2="163.9" stroke="#9c9c9c" stroke-width="0.7"/>
<text transform="translate(451.00,166.05) scale(1,1.28)" font-size="4.9" fill="#6e6e6e" text-anchor="end">10000</text>
<line x1="450.9" y1="184.2" x2="452.5" y2="184.2" stroke="#9c9c9c" stroke-width="0.7"/>
<text transform="translate(451.00,186.35) scale(1,1.28)" font-size="4.9" fill="#6e6e6e" text-anchor="end">0</text>
<line x1="452.5" y1="191.1" x2="452.5" y2="290.4" stroke="#9c9c9c" stroke-width="0.9"/>
<line x1="450.9" y1="193.39999999999998" x2="452.5" y2="193.39999999999998" stroke="#9c9c9c" stroke-width="0.7"/>
<text transform="translate(451.00,195.55) scale(1,1.28)" font-size="4.9" fill="#6e6e6e" text-anchor="end">12000</text>
<line x1="450.9" y1="216.7" x2="452.5" y2="216.7" stroke="#9c9c9c" stroke-width="0.7"/>
<text transform="translate(451.00,218.85) scale(1,1.28)" font-size="4.9" fill="#6e6e6e" text-anchor="end">9000</text>
<line x1="450.9" y1="239.89999999999998" x2="452.5" y2="239.89999999999998" stroke="#9c9c9c" stroke-width="0.7"/>
<text transform="translate(451.00,242.05) scale(1,1.28)" font-size="4.9" fill="#6e6e6e" text-anchor="end">6000</text>
<line x1="450.9" y1="263.09999999999997" x2="452.5" y2="263.09999999999997" stroke="#9c9c9c" stroke-width="0.7"/>
<text transform="translate(451.00,265.25) scale(1,1.28)" font-size="4.9" fill="#6e6e6e" text-anchor="end">3000</text>
<line x1="450.9" y1="286.3" x2="452.5" y2="286.3" stroke="#9c9c9c" stroke-width="0.7"/>
<text transform="translate(451.00,288.45) scale(1,1.28)" font-size="4.9" fill="#6e6e6e" text-anchor="end">0</text>
<line x1="452.05" y1="290.4" x2="539.0" y2="290.4" stroke="#9c9c9c" stroke-width="0.9"/>
<line x1="453.2" y1="290.4" x2="453.2" y2="292" stroke="#9c9c9c" stroke-width="0.7"/>
<text transform="translate(453.2,296.0) scale(1,1.28)" font-size="4.9" fill="#6e6e6e" text-anchor="middle">23.4</text>
<line x1="471.0" y1="290.4" x2="471.0" y2="292" stroke="#9c9c9c" stroke-width="0.7"/>
<text transform="translate(471.0,296.0) scale(1,1.28)" font-size="4.9" fill="#6e6e6e" text-anchor="middle">23.5</text>
<line x1="488.8" y1="290.4" x2="488.8" y2="292" stroke="#9c9c9c" stroke-width="0.7"/>
<text transform="translate(488.8,296.0) scale(1,1.28)" font-size="4.9" fill="#6e6e6e" text-anchor="middle">23.6</text>
<line x1="506.6" y1="290.4" x2="506.6" y2="292" stroke="#9c9c9c" stroke-width="0.7"/>
<text transform="translate(506.6,296.0) scale(1,1.28)" font-size="4.9" fill="#6e6e6e" text-anchor="middle">23.7</text>
<line x1="524.4" y1="290.4" x2="524.4" y2="292" stroke="#9c9c9c" stroke-width="0.7"/>
<text transform="translate(524.4,296.0) scale(1,1.28)" font-size="4.9" fill="#6e6e6e" text-anchor="middle">23.8</text>
<line x1="555.0" y1="88.5" x2="555.0" y2="188.7" stroke="#9c9c9c" stroke-width="0.9"/>
<line x1="553.4" y1="89.6" x2="555.0" y2="89.6" stroke="#9c9c9c" stroke-width="0.7"/>
<text transform="translate(553.50,91.75) scale(1,1.28)" font-size="4.9" fill="#6e6e6e" text-anchor="end">50000</text>
<line x1="553.4" y1="108.5" x2="555.0" y2="108.5" stroke="#9c9c9c" stroke-width="0.7"/>
<text transform="translate(553.50,110.65) scale(1,1.28)" font-size="4.9" fill="#6e6e6e" text-anchor="end">40000</text>
<line x1="553.4" y1="127.4" x2="555.0" y2="127.4" stroke="#9c9c9c" stroke-width="0.7"/>
<text transform="translate(553.50,129.55) scale(1,1.28)" font-size="4.9" fill="#6e6e6e" text-anchor="end">30000</text>
<line x1="553.4" y1="146.3" x2="555.0" y2="146.3" stroke="#9c9c9c" stroke-width="0.7"/>
<text transform="translate(553.50,148.45) scale(1,1.28)" font-size="4.9" fill="#6e6e6e" text-anchor="end">20000</text>
<line x1="553.4" y1="165.2" x2="555.0" y2="165.2" stroke="#9c9c9c" stroke-width="0.7"/>
<text transform="translate(553.50,167.35) scale(1,1.28)" font-size="4.9" fill="#6e6e6e" text-anchor="end">10000</text>
<line x1="553.4" y1="184.1" x2="555.0" y2="184.1" stroke="#9c9c9c" stroke-width="0.7"/>
<text transform="translate(553.50,186.25) scale(1,1.28)" font-size="4.9" fill="#6e6e6e" text-anchor="end">0</text>
<line x1="555.0" y1="191.1" x2="555.0" y2="290.4" stroke="#9c9c9c" stroke-width="0.9"/>
<line x1="553.4" y1="198.2" x2="555.0" y2="198.2" stroke="#9c9c9c" stroke-width="0.7"/>
<text transform="translate(553.50,200.35) scale(1,1.28)" font-size="4.9" fill="#6e6e6e" text-anchor="end">30000</text>
<line x1="553.4" y1="227.5" x2="555.0" y2="227.5" stroke="#9c9c9c" stroke-width="0.7"/>
<text transform="translate(553.50,229.65) scale(1,1.28)" font-size="4.9" fill="#6e6e6e" text-anchor="end">20000</text>
<line x1="553.4" y1="256.8" x2="555.0" y2="256.8" stroke="#9c9c9c" stroke-width="0.7"/>
<text transform="translate(553.50,258.95) scale(1,1.28)" font-size="4.9" fill="#6e6e6e" text-anchor="end">10000</text>
<line x1="553.4" y1="286.09999999999997" x2="555.0" y2="286.09999999999997" stroke="#9c9c9c" stroke-width="0.7"/>
<text transform="translate(553.50,288.25) scale(1,1.28)" font-size="4.9" fill="#6e6e6e" text-anchor="end">0</text>
<line x1="554.55" y1="290.4" x2="647.2" y2="290.4" stroke="#9c9c9c" stroke-width="0.9"/>
<line x1="561.0" y1="290.4" x2="561.0" y2="292" stroke="#9c9c9c" stroke-width="0.7"/>
<text transform="translate(561.0,296.0) scale(1,1.28)" font-size="4.9" fill="#6e6e6e" text-anchor="middle">23.9</text>
<line x1="585.7" y1="290.4" x2="585.7" y2="292" stroke="#9c9c9c" stroke-width="0.7"/>
<text transform="translate(585.7,296.0) scale(1,1.28)" font-size="4.9" fill="#6e6e6e" text-anchor="middle">24.0</text>
<line x1="610.4" y1="290.4" x2="610.4" y2="292" stroke="#9c9c9c" stroke-width="0.7"/>
<text transform="translate(610.4,296.0) scale(1,1.28)" font-size="4.9" fill="#6e6e6e" text-anchor="middle">24.1</text>
<line x1="635.1" y1="290.4" x2="635.1" y2="292" stroke="#9c9c9c" stroke-width="0.7"/>
<text transform="translate(635.1,296.0) scale(1,1.28)" font-size="4.9" fill="#6e6e6e" text-anchor="middle">24.2</text>
<text x="331.5" y="305.6" font-size="7.7" fill="#111" text-anchor="middle">Retention Time</text>
<text transform="translate(5.7,188.2) rotate(-90)" font-size="7.8" fill="#111" text-anchor="middle">Intensity</text>
<rect x="662.3" y="152.65" width="10.8" height="30.9" fill="#fff" stroke="#111" stroke-width="0.9"/>
<text transform="translate(669.7,168.1) rotate(-90)" font-size="5.45" font-weight="bold" fill="#111" text-anchor="middle">Light</text>
<rect x="662.3" y="254.65" width="10.8" height="30.5" fill="#fff" stroke="#111" stroke-width="0.9"/>
<text transform="translate(669.7,269.9) rotate(-90)" font-size="5.45" font-weight="bold" fill="#111" text-anchor="middle">Heavy</text>
<text x="650.5" y="197" font-size="7.8" fill="#111">Transition</text>
<line x1="656" y1="209.00" x2="664.5" y2="209.00" stroke="#F8766D" stroke-width="2.2"/>
<text transform="translate(666.8,211.00) scale(1,1.15)" font-size="5.1" fill="#3a3a3a">y13.2</text>
<line x1="656" y1="219.45" x2="664.5" y2="219.45" stroke="#7CAE00" stroke-width="2.2"/>
<text transform="translate(666.8,221.45) scale(1,1.15)" font-size="5.1" fill="#3a3a3a">y3.1</text>
<line x1="656" y1="229.90" x2="664.5" y2="229.90" stroke="#00BFC4" stroke-width="2.2"/>
<text transform="translate(666.8,231.90) scale(1,1.15)" font-size="5.1" fill="#3a3a3a">y6.1</text>
<line x1="656" y1="240.35" x2="664.5" y2="240.35" stroke="#C77CFF" stroke-width="2.2"/>
<text transform="translate(666.8,242.35) scale(1,1.15)" font-size="5.1" fill="#3a3a3a">y9.1</text>
<polyline points="28.9,184.0 35.0,182.8 41.0,177.5 46.9,162.5 53.1,146.6 57.5,140.9 61.1,138.1 63.7,137.8 67.2,140.4 71.6,140.9 73.4,143.0 76.9,155.4 80.5,167.8 85.8,176.6 91.0,181.0 100.0,182.5 113.1,183.8" fill="none" stroke="#F8766D" stroke-width="1.5" stroke-linejoin="round"/>
<polyline points="28.9,184.0 34.6,182.5 41.6,174.8 48.7,158.9 54.0,144.8 55.8,139.5 56.6,136.0 60.0,125.4 62.7,123.0 64.4,124.2 66.4,131.8 69.5,136.0 72.5,139.5 76.9,153.6 82.2,166.0 87.5,178.4 94.6,181.5 113.1,183.6" fill="none" stroke="#7CAE00" stroke-width="1.5" stroke-linejoin="round"/>
<polyline points="28.9,184.0 34.6,182.2 39.9,176.6 42.0,171.0 44.9,161.0 48.0,150.0 51.5,137.0 55.5,121.0 58.5,110.0 61.0,102.0 63.4,93.1 66.4,103.0 70.2,118.3 74.3,136.0 76.9,150.1 82.2,164.2 88.4,177.5 92.8,180.5 99.9,181.5 107.0,182.8 113.1,183.6" fill="none" stroke="#00BFC4" stroke-width="1.5" stroke-linejoin="round"/>
<polyline points="28.9,184.2 38.1,181.0 46.9,171.3 53.1,158.9 58.4,144.8 62.8,138.6 64.6,138.1 68.1,141.3 72.5,150.1 76.9,160.7 82.2,171.3 88.4,180.1 94.6,182.2 113.1,184.2" fill="none" stroke="#C77CFF" stroke-width="1.5" stroke-linejoin="round"/>
<polyline points="29.3,286.0 36.0,284.5 42.0,279.0 47.0,268.0 51.0,254.0 55.4,233.1 58.0,224.7 60.5,217.9 63.0,215.3 65.6,221.3 68.1,229.7 71.5,238.2 75.2,255.6 78.7,264.5 84.0,276.8 89.3,282.1 94.6,284.8 101.6,285.3 112.2,285.8" fill="none" stroke="#F8766D" stroke-width="1.5" stroke-linejoin="round" stroke-dasharray="1.8,2.1,8.4,2.1"/>
<polyline points="29.3,285.5 35.0,284.0 41.6,273.3 46.9,261.0 50.5,246.8 53.7,226.4 55.4,212.8 56.6,206.0 57.4,201.7 58.8,209.4 60.5,219.0 63.0,229.0 66.0,222.0 68.5,228.0 71.6,238.0 75.2,252.1 80.5,268.0 84.9,276.8 88.4,280.4 92.8,281.2 98.1,283.5 112.2,285.6" fill="none" stroke="#7CAE00" stroke-width="1.5" stroke-linejoin="round" stroke-dasharray="1.8,2.1,8.4,2.1"/>
<polyline points="29.3,285.3 34.6,284.2 39.9,279.5 43.4,271.5 46.1,259.2 48.7,241.5 52.0,231.4 54.2,214.5 55.4,205.1 57.1,195.8 59.7,203.4 62.2,207.7 64.7,201.7 66.8,197.5 69.0,206.0 71.5,217.9 74.1,231.4 75.8,241.0 80.5,255.6 85.8,270.6 90.2,277.7 94.6,281.2 101.6,284.2 112.2,285.6" fill="none" stroke="#00BFC4" stroke-width="1.5" stroke-linejoin="round" stroke-dasharray="1.8,2.1,8.4,2.1"/>
<polyline points="29.3,286.0 36.4,283.9 43.4,273.3 48.7,259.2 54.0,246.8 57.5,240.6 61.9,239.4 63.0,233.1 66.4,228.0 68.5,233.1 70.8,238.0 73.4,248.6 76.9,261.0 81.4,271.5 85.8,279.5 91.0,283.0 98.1,284.8 112.2,286.0" fill="none" stroke="#C77CFF" stroke-width="1.5" stroke-linejoin="round" stroke-dasharray="1.8,2.1,8.4,2.1"/>
<polyline points="133.4,178.0 139.6,178.3 146.6,176.6 151.9,173.9 155.5,173.0 159.9,171.3 164.3,169.5 166.9,168.3 169.6,169.5 172.2,168.6 174.9,162.5 178.4,150.1 181.0,139.5 183.3,131.8 185.0,128.4 187.6,126.7 191.0,128.4 193.2,132.7 194.4,138.0 196.9,146.6 199.5,158.9 203.1,171.3 207.5,178.3 213.7,182.2 219.0,183.6" fill="none" stroke="#F8766D" stroke-width="1.5" stroke-linejoin="round"/>
<polyline points="133.4,177.4 139.6,178.3 144.9,175.7 150.2,173.0 155.5,170.4 160.7,168.6 164.3,171.3 166.9,173.0 170.4,171.3 174.0,165.1 177.0,155.4 179.3,144.8 180.2,138.0 182.5,123.4 185.0,115.7 187.6,112.3 191.0,111.1 193.2,114.0 195.2,125.0 196.5,136.0 198.7,148.3 201.3,162.5 204.8,173.0 210.1,180.1 217.2,183.3 219.0,183.6" fill="none" stroke="#7CAE00" stroke-width="1.5" stroke-linejoin="round"/>
<polyline points="133.4,176.2 137.8,175.2 142.2,175.7 146.6,173.0 151.9,170.4 157.2,168.6 163.4,168.1 168.7,166.0 172.2,161.6 175.7,153.6 178.4,144.8 179.5,138.0 181.6,111.5 184.2,97.0 186.7,93.1 189.8,93.1 192.2,97.9 194.4,111.5 196.1,128.4 197.3,138.0 199.5,150.1 203.1,164.2 206.6,173.9 211.0,180.1 215.4,182.7 219.0,183.6" fill="none" stroke="#00BFC4" stroke-width="1.5" stroke-linejoin="round"/>
<polyline points="133.4,181.5 139.6,179.2 146.6,177.4 151.9,176.6 157.2,176.2 164.3,175.7 170.4,175.2 174.0,169.5 177.5,158.9 181.0,146.6 183.7,138.6 185.4,137.4 189.0,138.6 192.5,143.9 196.9,151.9 200.4,162.5 204.0,173.0 208.4,179.2 213.7,182.2 219.0,183.3" fill="none" stroke="#C77CFF" stroke-width="1.5" stroke-linejoin="round"/>
<polyline points="134.3,280.3 139.6,281.2 144.9,278.6 150.2,275.9 155.5,274.2 160.7,275.0 166.0,275.9 171.3,274.2 174.9,268.9 177.5,257.4 178.5,240.0 179.9,232.3 182.5,231.4 185.0,232.8 187.6,231.4 190.1,229.7 192.2,231.4 193.5,235.7 194.5,240.0 196.0,250.3 198.7,264.5 200.4,270.6 204.0,275.9 209.2,281.2 215.4,284.7 218.1,285.3" fill="none" stroke="#F8766D" stroke-width="1.5" stroke-linejoin="round" stroke-dasharray="1.8,2.1,8.4,2.1"/>
<polyline points="134.3,280.3 138.7,280.3 142.2,276.8 146.6,275.9 151.0,274.2 155.5,272.4 159.9,270.6 164.3,272.4 168.7,271.5 173.1,266.2 176.6,255.6 179.3,245.1 180.5,239.0 183.3,231.4 185.9,223.0 187.6,221.3 189.3,218.7 190.5,219.6 191.8,225.5 192.7,231.4 194.3,238.0 196.9,248.6 199.5,260.9 203.1,273.3 207.5,280.3 212.8,284.2 218.1,285.3" fill="none" stroke="#7CAE00" stroke-width="1.5" stroke-linejoin="round" stroke-dasharray="1.8,2.1,8.4,2.1"/>
<polyline points="133.4,279.4 137.8,280.3 142.2,275.9 146.6,272.4 152.8,268.9 157.2,270.6 161.6,268.0 166.0,267.1 168.7,260.9 173.1,253.9 176.3,245.1 178.0,238.0 179.9,229.7 182.5,214.5 185.0,204.3 188.4,196.6 190.6,194.4 192.7,197.5 194.4,209.4 196.1,223.0 197.8,234.8 198.7,245.1 201.3,259.2 204.8,271.5 209.2,279.4 213.7,284.2 218.1,285.3" fill="none" stroke="#00BFC4" stroke-width="1.5" stroke-linejoin="round" stroke-dasharray="1.8,2.1,8.4,2.1"/>
<polyline points="134.3,281.2 139.6,282.1 144.9,279.4 150.2,276.8 155.5,275.0 159.9,273.3 164.3,273.3 168.7,271.5 173.1,268.9 177.5,260.9 181.0,248.6 183.3,240.0 186.7,235.7 189.3,236.5 191.8,239.0 193.4,246.8 196.9,259.2 200.4,269.7 204.8,277.7 210.1,283.0 218.1,285.6" fill="none" stroke="#C77CFF" stroke-width="1.5" stroke-linejoin="round" stroke-dasharray="1.8,2.1,8.4,2.1"/>
<polyline points="240.4,180.1 246.6,178.7 252.8,176.9 256.3,175.7 259.8,167.7 262.5,157.2 265.1,143.1 266.3,135.3 267.5,132.8 271.7,129.4 277.3,125.1 280.2,129.4 282.8,135.3 284.5,138.0 287.1,146.6 290.7,158.9 294.2,168.6 299.5,176.6 305.7,181.5 313.6,181.9 325.1,183.3" fill="none" stroke="#F8766D" stroke-width="1.5" stroke-linejoin="round"/>
<polyline points="240.4,179.2 246.6,177.4 251.9,174.8 256.3,172.2 259.8,162.5 263.3,150.1 266.0,139.5 267.5,136.0 270.0,128.5 272.1,121.7 273.8,118.0 276.8,122.6 280.2,123.8 284.5,126.8 286.2,131.9 287.4,138.0 288.9,150.1 292.4,162.5 296.8,173.0 302.1,179.2 306.5,180.4 313.6,180.4 325.1,183.3" fill="none" stroke="#7CAE00" stroke-width="1.5" stroke-linejoin="round"/>
<polyline points="240.4,177.4 245.7,174.8 251.0,172.2 254.5,173.9 258.0,164.2 262.5,146.6 265.1,143.1 267.0,138.0 270.0,123.4 273.4,106.4 277.3,92.8 280.6,98.8 283.6,109.0 285.7,120.0 287.0,130.2 288.0,138.0 288.9,146.6 292.4,160.7 296.8,173.0 303.0,180.1 306.5,181.5 313.6,182.2 325.1,183.6" fill="none" stroke="#00BFC4" stroke-width="1.5" stroke-linejoin="round"/>
<polyline points="240.4,181.0 246.6,180.4 251.9,177.4 257.2,173.9 262.5,166.0 266.9,157.2 271.3,143.1 273.9,137.8 275.1,136.7 276.6,137.8 280.1,144.8 284.5,156.3 288.9,162.5 294.2,171.3 299.5,178.3 303.9,182.2 310.1,182.2 318.9,183.3 325.1,184.0" fill="none" stroke="#C77CFF" stroke-width="1.5" stroke-linejoin="round"/>
<polyline points="240.4,280.3 245.7,279.4 251.0,277.7 255.4,276.8 258.0,273.3 260.7,262.7 262.5,255.6 265.1,246.8 268.6,250.3 271.3,246.8 273.0,241.5 274.8,228.1 276.3,216.2 277.7,206.0 279.4,200.9 281.1,199.2 282.8,202.6 284.1,207.7 285.3,216.2 286.5,226.4 287.5,236.6 288.5,245.0 289.8,252.1 292.4,264.5 295.1,273.3 298.6,278.6 302.1,283.0 306.5,281.2 311.0,280.3 316.2,282.1 320.7,284.2 325.1,285.3" fill="none" stroke="#F8766D" stroke-width="1.5" stroke-linejoin="round" stroke-dasharray="1.8,2.1,8.4,2.1"/>
<polyline points="240.4,283.0 245.7,281.2 251.0,279.4 255.4,273.3 258.9,268.0 262.5,260.9 265.1,253.9 266.9,246.8 267.7,238.0 269.2,228.1 270.9,216.2 272.6,209.4 273.8,206.0 275.5,210.3 277.7,217.1 280.6,224.7 283.6,233.2 286.3,240.0 288.0,248.6 289.8,260.9 292.4,271.5 296.8,277.7 301.3,280.3 306.5,281.2 313.6,281.7 320.7,283.5 325.1,284.7" fill="none" stroke="#7CAE00" stroke-width="1.5" stroke-linejoin="round" stroke-dasharray="1.8,2.1,8.4,2.1"/>
<polyline points="240.4,276.4 243.9,279.4 247.5,278.6 250.1,266.2 252.8,262.7 256.3,259.2 258.9,252.1 261.6,243.3 262.8,238.0 264.9,231.5 267.5,219.6 270.0,207.7 272.6,198.4 275.1,195.5 277.2,195.5 278.5,199.2 279.9,207.7 281.6,217.9 283.6,229.8 285.4,238.0 288.9,246.8 291.6,259.2 293.3,269.7 296.0,275.0 299.5,279.4 303.0,281.2 307.4,279.4 311.8,282.1 315.4,285.3 320.7,284.7 325.1,285.6" fill="none" stroke="#00BFC4" stroke-width="1.5" stroke-linejoin="round" stroke-dasharray="1.8,2.1,8.4,2.1"/>
<polyline points="240.4,278.6 245.7,278.2 250.1,274.2 253.6,276.8 257.2,273.3 260.7,268.0 264.2,257.4 266.0,247.7 268.6,249.5 272.2,252.1 274.8,245.1 276.0,238.3 278.5,234.9 280.6,233.6 282.8,235.3 285.3,240.0 287.1,248.6 288.9,259.2 292.4,268.9 296.0,275.0 300.4,280.3 304.8,282.1 310.1,282.1 317.1,283.5 325.1,285.3" fill="none" stroke="#C77CFF" stroke-width="1.5" stroke-linejoin="round" stroke-dasharray="1.8,2.1,8.4,2.1"/>
<polyline points="350.4,171.3 353.1,172.2 354.8,174.8 358.3,166.9 361.3,154.2 363.7,146.0 367.0,136.2 369.5,130.5 371.9,132.1 373.9,128.8 376.0,133.7 378.5,134.5 380.9,138.6 383.4,141.1 385.8,145.2 388.3,149.3 389.9,146.0 391.6,138.6 393.2,137.0 394.8,140.3 397.3,147.6 399.2,154.2 400.7,162.5 403.3,171.3 406.8,177.4 411.3,181.5 415.7,180.1 417.4,177.4 421.0,178.3 424.5,181.5 428.9,182.2 435.1,183.3" fill="none" stroke="#F8766D" stroke-width="1.5" stroke-linejoin="round"/>
<polyline points="350.4,173.0 353.1,173.0 355.7,170.4 358.3,166.0 360.5,157.5 362.9,142.7 364.9,127.2 366.2,126.4 367.8,130.5 369.5,137.0 371.9,124.7 374.0,119.0 375.7,126.4 376.8,132.1 379.3,131.3 381.7,127.2 383.4,131.3 385.0,141.1 386.6,139.5 389.1,137.0 392.4,134.5 394.0,136.2 395.6,142.7 398.1,149.3 400.3,157.5 402.4,166.0 405.1,173.0 408.6,178.3 413.9,181.5 420.1,182.7 427.1,182.7 435.1,183.6" fill="none" stroke="#7CAE00" stroke-width="1.5" stroke-linejoin="round"/>
<polyline points="350.4,169.5 353.1,161.6 355.7,163.3 357.5,160.7 359.2,153.6 361.0,144.8 362.5,136.0 363.8,123.4 365.0,114.0 366.7,111.5 368.4,101.3 369.8,93.1 371.1,97.0 373.2,100.4 374.9,104.7 376.6,109.8 378.2,119.8 380.0,111.0 382.2,110.8 384.2,114.9 387.5,119.8 390.7,123.1 393.2,126.4 395.2,126.4 396.8,131.8 398.5,140.0 401.0,146.6 403.3,153.6 405.1,164.2 406.8,171.3 410.4,177.4 414.8,179.7 420.1,181.0 427.1,182.2 435.1,183.3" fill="none" stroke="#00BFC4" stroke-width="1.5" stroke-linejoin="round"/>
<polyline points="350.4,177.4 353.9,176.2 356.6,177.4 359.2,166.0 361.9,158.0 364.5,150.0 367.5,141.0 370.3,137.8 372.7,134.5 374.4,132.9 376.0,135.4 377.6,137.8 380.1,142.7 382.5,149.3 384.5,153.4 386.2,148.5 387.8,144.4 389.9,146.8 392.4,150.9 394.8,152.6 397.3,155.0 399.8,164.2 402.4,171.3 406.0,177.4 410.4,181.9 413.9,183.6 416.5,177.4 418.3,181.9 423.6,183.6 428.9,182.7 432.4,181.5 435.1,183.3" fill="none" stroke="#C77CFF" stroke-width="1.5" stroke-linejoin="round"/>
<polyline points="350.4,283.0 352.2,281.2 354.8,273.3 357.5,264.5 359.2,255.6 361.0,246.8 362.1,236.0 364.7,238.2 367.0,236.0 369.5,240.0 372.0,239.7 374.6,230.9 377.3,238.9 379.9,234.5 382.6,218.6 385.2,221.2 387.9,217.7 389.6,215.9 391.4,229.2 394.0,241.5 396.7,248.6 400.2,254.7 401.6,262.7 404.2,271.5 406.8,278.6 410.4,283.0 414.8,284.2 418.3,281.2 421.0,275.9 422.7,274.2 424.5,279.4 426.2,283.0 430.7,284.7 435.1,282.1" fill="none" stroke="#F8766D" stroke-width="1.5" stroke-linejoin="round" stroke-dasharray="1.8,2.1,8.4,2.1"/>
<polyline points="350.4,278.6 353.1,274.2 355.7,269.7 358.3,264.5 361.0,254.8 362.8,245.1 364.3,229.7 365.5,221.3 367.2,223.0 368.9,220.4 370.6,225.5 372.3,228.0 375.5,218.6 377.3,225.6 379.9,232.7 381.7,225.6 383.5,223.9 385.2,230.9 387.0,234.5 389.6,225.6 391.4,239.7 393.2,245.9 395.8,250.3 398.5,252.1 401.1,257.4 402.4,266.2 405.1,275.0 407.7,280.3 411.3,283.5 416.5,284.7 425.4,285.3 435.1,285.6" fill="none" stroke="#7CAE00" stroke-width="1.5" stroke-linejoin="round" stroke-dasharray="1.8,2.1,8.4,2.1"/>
<polyline points="350.4,275.9 352.2,267.1 353.9,266.2 355.7,275.9 357.5,268.9 359.2,260.9 361.0,252.1 362.1,243.0 363.8,228.0 365.0,217.9 366.4,211.1 368.1,206.0 370.6,202.6 372.3,200.9 374.0,194.9 375.2,205.0 376.2,212.0 377.3,218.6 379.9,219.5 382.6,227.4 384.3,236.2 387.9,225.6 390.5,220.3 393.2,215.9 394.9,222.1 396.7,230.9 398.1,239.7 399.3,248.6 401.1,255.6 403.7,261.0 405.1,266.2 406.8,273.3 409.5,279.4 413.0,283.5 416.5,284.2 421.8,284.7 427.1,284.2 435.1,285.3" fill="none" stroke="#00BFC4" stroke-width="1.5" stroke-linejoin="round" stroke-dasharray="1.8,2.1,8.4,2.1"/>
<polyline points="350.4,280.3 353.1,275.9 355.7,268.0 357.5,260.9 360.1,255.6 363.6,248.6 366.3,241.5 368.9,240.0 371.5,229.7 373.2,233.1 374.6,241.5 377.3,247.7 379.9,252.1 382.6,257.4 384.3,259.1 386.1,252.1 388.8,245.9 391.4,246.8 393.6,250.3 396.3,255.6 398.9,266.0 400.7,269.7 403.3,276.8 406.0,281.2 410.4,284.2 416.5,285.3 425.4,285.6 435.1,285.3" fill="none" stroke="#C77CFF" stroke-width="1.5" stroke-linejoin="round" stroke-dasharray="1.8,2.1,8.4,2.1"/>
<polyline points="457.3,183.3 460.8,178.5 464.3,167.7 467.0,155.4 469.6,146.6 471.5,138.0 474.1,129.3 475.8,121.7 477.1,119.1 478.3,123.4 480.0,129.3 482.2,131.0 484.3,126.8 486.0,130.2 487.7,133.6 490.2,136.8 491.7,137.8 494.3,141.3 497.0,143.9 498.7,146.6 501.4,149.2 504.0,148.3 506.7,149.2 509.3,151.0 511.1,151.9 512.8,155.4 515.5,159.8 519.0,164.2 522.5,168.6 526.1,173.0 529.6,177.4 534.0,180.1 538.4,183.0" fill="none" stroke="#F8766D" stroke-width="1.5" stroke-linejoin="round"/>
<polyline points="457.3,183.0 460.8,177.4 463.5,167.7 466.1,155.4 468.2,143.1 469.6,136.0 471.5,131.9 473.2,127.6 474.9,118.3 476.6,120.0 478.3,125.1 480.0,120.0 481.7,117.4 483.4,116.2 485.1,117.4 486.8,118.3 488.5,122.5 490.2,123.4 491.4,130.2 492.8,128.5 494.5,126.8 495.8,132.7 497.0,134.4 498.7,135.3 500.5,138.6 502.3,137.8 504.0,140.4 506.7,144.8 508.4,147.5 511.1,150.1 512.8,151.9 515.5,156.3 519.0,162.5 522.5,167.7 526.1,172.2 529.6,175.7 533.1,179.2 536.7,182.7 538.4,183.3" fill="none" stroke="#7CAE00" stroke-width="1.5" stroke-linejoin="round"/>
<polyline points="457.3,182.7 459.9,179.2 462.6,171.3 465.2,158.9 467.0,146.6 468.5,137.0 470.7,123.4 473.2,111.5 474.9,106.4 476.6,105.5 477.8,101.3 479.2,95.3 480.5,102.1 481.7,102.1 482.9,99.6 484.6,93.1 486.0,93.6 487.3,101.3 488.5,113.2 490.2,105.5 491.9,114.0 493.6,117.4 495.3,115.7 497.0,118.3 498.2,124.2 499.6,127.6 501.3,125.9 503.0,126.8 504.7,129.3 506.0,133.6 507.4,137.8 510.2,137.2 512.8,136.9 514.6,141.3 516.4,146.6 519.0,148.3 520.8,153.6 522.5,160.7 524.3,165.1 527.0,166.9 529.6,170.4 532.2,175.7 534.9,181.0 538.4,182.7" fill="none" stroke="#00BFC4" stroke-width="1.5" stroke-linejoin="round"/>
<polyline points="456.9,183.6 459.9,181.0 462.6,174.8 466.1,164.2 468.8,153.6 471.4,147.5 474.0,145.7 475.8,139.5 476.8,136.8 478.5,143.1 481.1,143.9 483.7,143.1 486.4,144.8 488.2,147.5 489.9,142.2 492.6,145.7 495.2,150.1 497.5,153.6 500.5,154.5 503.1,153.6 505.8,155.4 508.1,153.6 510.2,155.4 512.8,157.2 515.5,162.5 518.1,166.0 521.7,169.5 525.2,172.2 529.6,178.3 534.0,179.2 537.5,183.3" fill="none" stroke="#C77CFF" stroke-width="1.5" stroke-linejoin="round"/>
<polyline points="457.3,284.2 461.7,277.7 464.3,269.7 467.9,259.2 470.5,248.6 472.3,241.5 472.4,229.8 474.9,232.3 477.5,230.6 480.0,233.2 483.4,231.5 486.0,228.9 488.5,231.5 491.1,235.7 492.6,241.5 495.2,245.9 497.9,248.6 501.4,250.3 504.9,252.1 507.6,259.2 510.2,255.6 512.8,260.9 515.5,262.7 519.0,268.0 522.5,271.5 526.1,275.9 529.6,280.3 534.0,283.0 537.5,284.5" fill="none" stroke="#F8766D" stroke-width="1.5" stroke-linejoin="round" stroke-dasharray="1.8,2.1,8.4,2.1"/>
<polyline points="457.3,283.5 460.8,276.8 463.5,268.0 466.1,255.6 468.8,245.1 469.5,236.6 470.7,233.2 473.2,228.1 475.8,224.7 477.5,229.8 480.0,224.7 482.6,223.8 485.1,225.5 486.8,230.6 488.5,229.8 490.5,233.0 492.8,236.6 496.2,234.0 498.5,238.0 501.4,245.1 504.9,245.1 508.4,250.3 512.0,255.6 514.6,260.9 517.3,262.7 519.9,260.9 522.5,266.2 526.1,274.2 529.6,278.6 533.1,281.2 537.5,284.2" fill="none" stroke="#7CAE00" stroke-width="1.5" stroke-linejoin="round" stroke-dasharray="1.8,2.1,8.4,2.1"/>
<polyline points="457.3,283.0 459.9,276.8 462.6,268.0 465.2,257.4 467.0,248.6 469.0,240.0 471.5,225.5 473.2,217.9 475.8,211.1 477.5,206.0 479.2,205.1 481.2,206.0 482.6,200.9 482.9,195.8 483.9,206.0 485.1,211.1 486.8,207.7 487.7,216.2 489.4,221.3 491.1,225.5 493.6,228.1 495.3,223.0 497.0,229.8 499.6,230.6 502.1,229.8 504.7,233.2 507.2,234.9 509.8,238.3 512.0,241.5 514.6,250.3 517.3,255.6 519.9,248.6 521.7,255.6 524.3,264.5 527.0,271.5 530.5,276.8 534.0,281.2 537.5,284.2" fill="none" stroke="#00BFC4" stroke-width="1.5" stroke-linejoin="round" stroke-dasharray="1.8,2.1,8.4,2.1"/>
<polyline points="457.3,284.7 460.8,279.4 464.3,273.3 467.9,264.5 471.4,255.6 474.0,248.6 476.7,245.1 479.3,239.8 481.7,234.9 483.4,233.2 486.0,236.6 487.3,243.3 489.0,248.6 491.7,246.8 495.2,248.6 497.9,254.8 501.4,256.5 504.9,255.6 508.4,253.9 511.1,259.2 512.8,263.6 515.5,261.8 518.1,268.0 520.8,271.5 524.3,275.0 527.8,278.6 532.2,282.1 536.7,284.2" fill="none" stroke="#C77CFF" stroke-width="1.5" stroke-linejoin="round" stroke-dasharray="1.8,2.1,8.4,2.1"/>
<polyline points="559.3,184.0 563.0,182.5 567.2,178.3 570.8,168.6 573.0,157.2 574.8,144.8 575.5,136.0 576.1,131.1 577.8,124.8 579.5,124.3 580.7,126.8 581.6,133.6 582.2,137.0 583.1,141.3 584.9,148.3 587.5,155.4 590.2,162.5 592.8,168.6 596.3,173.0 600.7,175.7 606.9,178.3 614.0,179.7 622.8,181.5 633.4,182.7 644.0,183.6" fill="none" stroke="#F8766D" stroke-width="1.5" stroke-linejoin="round"/>
<polyline points="559.3,184.0 563.0,182.5 566.3,178.3 569.9,167.7 572.5,153.6 574.3,143.1 575.2,136.0 576.1,125.1 577.5,119.2 578.7,116.6 579.9,114.6 581.2,120.0 582.6,130.2 583.3,137.0 584.3,143.1 586.1,151.9 588.4,157.2 591.0,162.5 593.7,168.6 597.2,172.2 600.7,174.8 605.1,177.4 610.4,179.2 617.5,180.1 624.5,181.5 633.4,182.7 644.0,183.6" fill="none" stroke="#7CAE00" stroke-width="1.5" stroke-linejoin="round"/>
<polyline points="559.3,183.6 562.8,181.9 566.3,177.4 569.0,166.0 570.8,153.6 572.2,141.3 572.9,136.0 574.0,120.0 575.6,106.4 577.3,98.5 579.6,93.6 581.3,98.3 582.8,105.0 583.9,114.9 585.0,126.8 585.9,137.0 586.6,143.1 588.4,150.1 591.0,157.2 593.7,164.2 596.3,169.5 599.9,172.2 603.4,173.9 606.9,176.6 610.4,178.3 615.7,179.2 621.0,180.4 628.1,181.5 635.1,182.7 644.0,183.6" fill="none" stroke="#00BFC4" stroke-width="1.5" stroke-linejoin="round"/>
<polyline points="559.3,184.0 564.6,181.9 568.1,178.3 570.8,171.3 573.4,158.9 576.0,146.6 577.8,141.3 579.6,139.9 581.3,142.2 583.1,148.3 585.7,157.2 588.4,164.2 591.0,169.5 594.6,173.9 599.0,176.6 604.3,179.2 610.4,181.0 619.3,181.9 628.1,182.7 636.9,183.6 644.0,184.0" fill="none" stroke="#C77CFF" stroke-width="1.5" stroke-linejoin="round"/>
<polyline points="559.3,285.6 565.5,282.1 568.1,273.3 570.8,260.9 573.0,248.6 573.6,238.3 575.3,231.5 577.0,225.6 578.1,223.9 579.5,227.3 580.9,232.4 582.1,238.3 583.1,246.8 585.7,255.6 589.3,265.3 592.8,272.4 597.2,276.8 603.4,280.3 610.4,281.2 617.5,282.1 628.1,283.5 638.7,284.7 644.0,285.3" fill="none" stroke="#F8766D" stroke-width="1.5" stroke-linejoin="round" stroke-dasharray="1.8,2.1,8.4,2.1"/>
<polyline points="559.3,285.5 564.6,283.0 567.2,275.0 569.5,260.9 571.6,246.8 572.7,236.6 574.4,226.4 576.1,220.5 577.8,218.3 579.5,219.6 581.2,224.7 582.6,229.8 583.5,236.0 584.9,246.8 586.6,255.6 589.3,264.5 592.8,271.5 597.2,275.9 602.5,279.4 608.7,281.2 615.7,281.7 624.5,283.0 635.1,284.7 644.0,285.3" fill="none" stroke="#7CAE00" stroke-width="1.5" stroke-linejoin="round" stroke-dasharray="1.8,2.1,8.4,2.1"/>
<polyline points="559.3,285.3 563.7,284.2 566.3,278.6 568.1,268.0 569.9,255.6 571.3,243.3 571.9,236.6 573.0,226.4 574.1,214.5 575.3,204.3 576.4,197.5 577.8,196.1 579.5,198.4 580.9,206.0 582.1,216.2 583.3,226.4 584.3,234.9 585.3,241.0 585.7,245.1 588.4,252.1 591.0,259.2 594.6,266.2 599.0,270.6 604.3,275.9 610.4,279.4 615.7,280.3 621.0,280.3 626.3,281.7 633.4,283.9 644.0,285.3" fill="none" stroke="#00BFC4" stroke-width="1.5" stroke-linejoin="round" stroke-dasharray="1.8,2.1,8.4,2.1"/>
<polyline points="559.3,286.0 563.7,284.7 567.2,278.6 569.9,269.7 572.5,259.2 574.3,248.6 575.8,238.3 577.5,235.8 579.2,237.5 580.5,240.0 582.2,245.1 584.0,253.9 586.6,262.7 589.3,269.7 592.8,275.0 597.2,279.4 602.5,281.2 608.7,282.1 615.7,283.0 624.5,284.2 635.1,285.6 644.0,285.8" fill="none" stroke="#C77CFF" stroke-width="1.5" stroke-linejoin="round" stroke-dasharray="1.8,2.1,8.4,2.1"/>
</svg></body></html>
